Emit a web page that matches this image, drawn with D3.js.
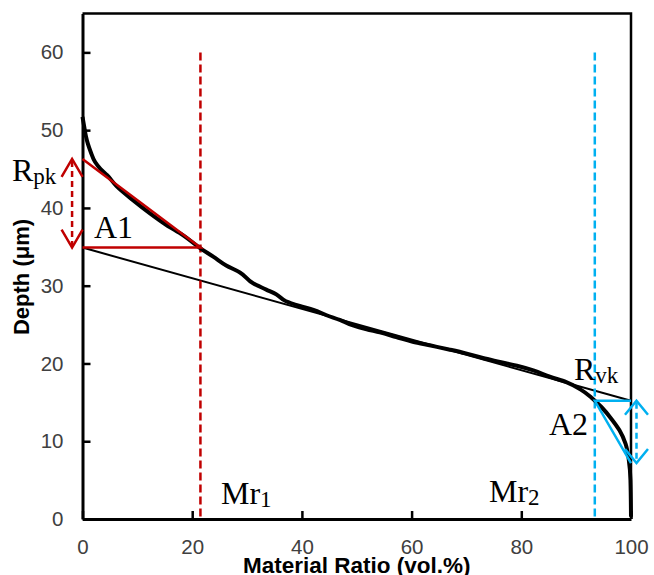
<!DOCTYPE html>
<html><head><meta charset="utf-8">
<script src="https://cdn.jsdelivr.net/npm/d3@7"></script>
<style>body{margin:0;background:#fff} svg{display:block}</style>
</head><body><svg id="c" width="654" height="575"></svg>
<script>
// Material ratio curve (Abbott-Firestone)
const ratio = [0,0.3,0.6,1.0,1.5,2.3,3.3,4.5,6.2,9.2,12.3,15.3,18.3,21.5,23.9,26.2,28.7,31.1,33.5,35.3,37.1,39.6,42.1,44.5,46.9,49.3,51.8,54.2,57.2,60.2,63.5,66.8,69.9,73.0,76.1,79.2,82.2,85.2,88.2,90.7,92.8,94.6,96.4,97.9,99.0,99.6,99.9,100];
const depth = [51.7,50.5,49.3,48.2,47.2,45.9,45.0,44.2,42.8,41.0,39.3,37.8,36.5,34.8,33.7,32.6,31.7,30.3,29.5,28.9,28.0,27.4,26.9,26.2,25.6,24.9,24.4,24.0,23.4,22.8,22.3,21.8,21.3,20.7,20.2,19.7,19.1,18.3,17.6,16.7,15.6,14.4,12.9,11.4,9.7,7.6,5.0,0.3];
const xTicks = [0,20,40,60,80,100];
const yTicks = [0,10,20,30,40,50,60];
const mr1 = 21.5, mr2 = 93.4;
const rkX = [0,100], rkY = [34.9,15.2];
const rpkTop = 46.3, rvkBottom = 7.2;
const rpkArrowX = -1.9, rvkArrowX = 101;

const svg = d3.select('#c');
const x = d3.scaleLinear().domain([0,100]).range([82.5,631]);
const y = d3.scaleLinear().domain([0,65]).range([519,13.5]);
const yRk1 = rkY[0], yRk2 = rkY[1];

const RED = '#c00000', BLUE = '#00b0f0';
const sans = '"Liberation Sans", Arial, sans-serif';
const serif = '"Liberation Serif", "Times New Roman", serif';

// frame top/right
svg.append('path').attr('d', `M${x(0)},${y(65)}H${x(100)}V${y(0)}`)
  .attr('fill','none').attr('stroke','#000').attr('stroke-width',2.5);

// axes
const gx = svg.append('g').attr('transform',`translate(0,${y(0)})`)
  .call(d3.axisBottom(x).tickValues(xTicks).tickSizeInner(-8).tickSizeOuter(0).tickPadding(20));
const gy = svg.append('g').attr('transform',`translate(${x(0)},0)`)
  .call(d3.axisLeft(y).tickValues(yTicks).tickSizeInner(-8).tickSizeOuter(0).tickPadding(19));
[gx,gy].forEach(g=>{
  g.select('.domain').attr('stroke','#000').attr('stroke-width',3);
  g.selectAll('.tick line').attr('stroke','#000').attr('stroke-width',2.5);
  g.selectAll('.tick text').attr('font-family',sans).attr('font-size',20.5).attr('fill','#404040');
});

// Rk secant line (thin)
svg.append('line').attr('x1',x(rkX[0])).attr('y1',y(rkY[0])).attr('x2',x(rkX[1])).attr('y2',y(rkY[1]))
  .attr('stroke','#000').attr('stroke-width',2);

// dashed Mr lines
svg.append('line').attr('x1',x(mr1)).attr('x2',x(mr1)).attr('y1',y(60)).attr('y2',y(0))
  .attr('stroke',RED).attr('stroke-width',2.5).attr('stroke-dasharray','8,4');
svg.append('line').attr('x1',x(mr2)).attr('x2',x(mr2)).attr('y1',y(60)).attr('y2',y(0))
  .attr('stroke',BLUE).attr('stroke-width',2.5).attr('stroke-dasharray','8,4');

// curve
const pts = ratio.map((r,i)=>[r,depth[i]]);
svg.append('path').datum(pts)
  .attr('d', d3.line().x(d=>x(d[0])).y(d=>y(d[1])).curve(d3.curveMonotoneY))
  .attr('fill','none').attr('stroke','#000').attr('stroke-width',4).attr('stroke-linejoin','round');

// red triangle A1
svg.append('path').attr('d',`M${x(0)},${y(rpkTop)}L${x(mr1)},${y(yRk1)}H${x(0)}`)
  .attr('fill','none').attr('stroke',RED).attr('stroke-width',2.5);
// blue triangle A2
svg.append('path').attr('d',`M${x(100)},${y(rvkBottom)}L${x(mr2)},${y(yRk2)}H${x(100)}`)
  .attr('fill','none').attr('stroke',BLUE).attr('stroke-width',2.5);

function dblArrow(xv, y1v, y2v, color, hw, hh){
  const xp = x(xv), a = y(y1v), b = y(y2v);
  svg.append('line').attr('x1',xp).attr('x2',xp).attr('y1',a+2).attr('y2',b-2)
    .attr('stroke',color).attr('stroke-width',2.5).attr('stroke-dasharray','6,4');
  svg.append('path').attr('d',`M${xp-hw},${a+hh}L${xp},${a}L${xp+hw},${a+hh}M${xp-hw},${b-hh}L${xp},${b}L${xp+hw},${b-hh}`)
    .attr('fill','none').attr('stroke',color).attr('stroke-width',2.5);
}
dblArrow(rpkArrowX, rpkTop, yRk1, RED, 10.5, 18);
dblArrow(rvkArrowX, yRk2, rvkBottom, BLUE, 11.5, 14);

// labels
function subLabel(px, py, main, sub){
  const t = svg.append('text').attr('x',px).attr('y',py).attr('font-family',serif).attr('font-size',32).attr('fill','#000');
  t.append('tspan').text(main);
  if(sub) t.append('tspan').attr('font-size',23).attr('dy',3).text(sub);
}
subLabel(12, 181, 'R', 'pk');
subLabel(94, 238, 'A1');
subLabel(221, 504, 'Mr', '1');
subLabel(489, 502, 'Mr', '2');
subLabel(574, 380, 'R', 'vk');
subLabel(549, 435, 'A2');

// axis titles
svg.append('text').attr('x',(x(0)+x(100))/2).attr('y',573).attr('text-anchor','middle')
  .attr('font-family',sans).attr('font-weight','bold').attr('font-size',22.5).text('Material Ratio (vol.%)');
svg.append('text').attr('transform','translate(29,277) rotate(-90)').attr('text-anchor','middle')
  .attr('font-family',sans).attr('font-weight','bold').attr('font-size',22).text('Depth (μm)');
</script></body></html>
